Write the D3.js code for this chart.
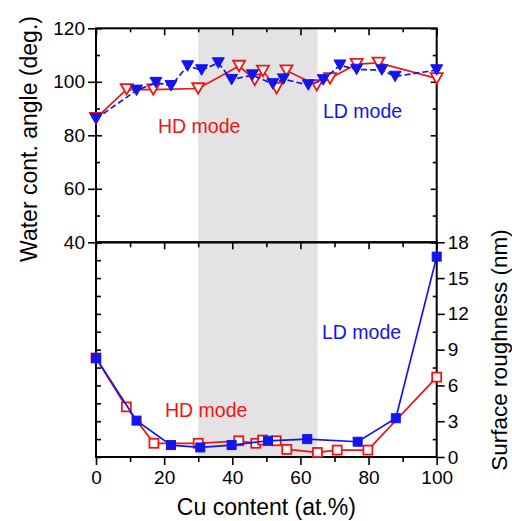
<!DOCTYPE html>
<html><head><meta charset="utf-8">
<script src="https://cdn.jsdelivr.net/npm/d3@7"></script>
<style>
html,body{margin:0;padding:0;background:#fff;}
svg{display:block;font-family:"Liberation Sans",Arial,sans-serif;}
</style></head>
<body>
<svg id="chart" width="512" height="521"></svg>
<script>
// ---- data ----
const cuTopLD   = [0, 11.9, 17.6, 22, 26.9, 31, 35.9, 39.8, 45.9, 51.9, 55, 62.3, 66.7, 71.6, 76.5, 83.9, 87.8, 100];
const angleLD   = [86.2, 96.8, 99.7, 98.5, 105.9, 104.4, 107, 100.8, 102.5, 99.2, 101, 98.8, 100.7, 106.2, 104.6, 104.4, 102, 104.4];
const cuTopHD   = [0, 9, 16.8, 30, 42, 46.6, 49, 53, 55.9, 64.8, 68.7, 76.5, 82.9, 100];
const angleHD   = [86.4, 97.2, 97.1, 97.5, 105.9, 100.7, 104.1, 97.6, 104.2, 98.7, 101.3, 106.6, 107.1, 101.3];
const cuBotLD   = [0, 11.9, 22, 30.6, 39.8, 50.5, 62, 76.8, 88, 100];
const roughLD   = [8.3, 3.05, 1.0, 0.8, 1.0, 1.36, 1.5, 1.28, 3.25, 16.8];
const cuBotHD   = [0, 8.9, 17, 30, 41.9, 46.9, 48.9, 52.9, 56, 65, 70.8, 79.8, 100];
const roughHD   = [8.3, 4.2, 1.15, 1.15, 1.36, 1.15, 1.42, 1.36, 0.64, 0.38, 0.58, 0.58, 6.7];
const shadeRange = [30, 65];
const xTicks = [0, 20, 40, 60, 80, 100];
const xMinor = [10, 30, 50, 70, 90];
const angleTicks = [40, 60, 80, 100, 120];
const angleMinor = [50, 70, 90, 110];
const roughTicks = [0, 3, 6, 9, 12, 15, 18];
const roughMinor = [1.5, 4.5, 7.5, 10.5, 13.5, 16.5];
const roughLeft = [0, 1.5, 3, 4.5, 6, 7.5, 9, 10.5, 12, 13.5, 15, 16.5, 18];

const BLUE = "#1414f0", RED = "#f01414";
const svg = d3.select("#chart");
const L = 96, R = 436.7, T = 28.3, M = 242.3, B = 457;
const x = d3.scaleLinear([0, 100], [L, R]);
const yT = d3.scaleLinear([40, 120], [M, T]);
const yB = d3.scaleLinear([0, 18], [B, M]);

// shaded band
svg.append("rect").attr("x", x(shadeRange[0])).attr("y", T)
  .attr("width", x(shadeRange[1]) - x(shadeRange[0])).attr("height", B - T)
  .attr("fill", "#e3e3e3");

function ax(gen, tx, ty, labels) {
  const g = svg.append("g").attr("transform", `translate(${tx},${ty})`).call(gen);
  g.select(".domain").remove();
  g.selectAll(".tick line").attr("stroke", "#000").attr("stroke-width", 1.6);
  if (!labels) g.selectAll(".tick text").remove();
  else g.selectAll(".tick text").attr("font-size", 19).attr("fill", "#000")
        .attr("font-family", '"Liberation Sans",Arial,sans-serif');
  return g;
}
// top panel axes
ax(d3.axisLeft(yT).tickValues(angleTicks).tickSize(8).tickPadding(3), L, 0, true);
ax(d3.axisLeft(yT).tickValues(angleTicks).tickSize(-6), L, 0, false);
ax(d3.axisLeft(yT).tickValues(angleMinor).tickSize(-4), L, 0, false);
ax(d3.axisRight(yT).tickValues(angleTicks).tickSize(-6), R, 0, false);
ax(d3.axisRight(yT).tickValues(angleMinor).tickSize(-4), R, 0, false);
ax(d3.axisTop(x).tickValues(xTicks).tickSize(-7), 0, T, false);
ax(d3.axisTop(x).tickValues(xMinor).tickSize(-4), 0, T, false);
// middle line ticks pointing down
ax(d3.axisTop(x).tickValues(xTicks).tickSize(-7), 0, M, false);
ax(d3.axisTop(x).tickValues(xMinor).tickSize(-5), 0, M, false);
// bottom panel axes
ax(d3.axisBottom(x).tickValues(xTicks).tickSize(8).tickPadding(6), 0, B, true);
ax(d3.axisBottom(x).tickValues(xMinor).tickSize(5), 0, B, false);
ax(d3.axisLeft(yB).tickValues(roughLeft).tickSize(-5), L, 0, false);
ax(d3.axisRight(yB).tickValues(roughTicks).tickSize(8).tickPadding(3), R, 0, true);
ax(d3.axisRight(yB).tickValues(roughMinor).tickSize(-4), R, 0, false);

// frames
svg.append("rect").attr("x", L).attr("y", T).attr("width", R - L).attr("height", M - T)
  .attr("fill", "none").attr("stroke", "#000").attr("stroke-width", 2);
svg.append("rect").attr("x", L).attr("y", M).attr("width", R - L).attr("height", B - M)
  .attr("fill", "none").attr("stroke", "#000").attr("stroke-width", 2);

// series
function series(xs, ys, ysc, color, dash, marker, filled) {
  const pts = xs.map((v, i) => [x(v), ysc(ys[i])]);
  svg.append("path").attr("d", d3.line()(pts)).attr("fill", "none")
    .attr("stroke", color).attr("stroke-width", 1.7).attr("stroke-dasharray", dash);
  const g = svg.append("g");
  pts.forEach(p => {
    if (marker === "tri") {
      const w = 12, h = 10.5;
      g.append("path").attr("d", `M${p[0]-w/2},${p[1]-h/2}L${p[0]+w/2},${p[1]-h/2}L${p[0]},${p[1]+h/2}Z`)
        .attr("fill", filled ? color : "#fff").attr("stroke", color)
        .attr("stroke-width", filled ? 1 : 1.8).attr("stroke-linejoin", "miter");
    } else {
      const s = 9;
      g.append("rect").attr("x", p[0]-s/2).attr("y", p[1]-s/2).attr("width", s).attr("height", s)
        .attr("fill", filled ? color : "#fff").attr("stroke", color)
        .attr("stroke-width", filled ? 1 : 1.8);
    }
  });
}
series(cuTopHD, angleHD, yT, RED, null, "tri", false);
series(cuTopLD, angleLD, yT, BLUE, "6,3", "tri", true);
series(cuBotHD, roughHD, yB, RED, null, "sq", false);
series(cuBotLD, roughLD, yB, BLUE, null, "sq", true);

// labels
function txt(s, tx, ty, size, color, rot, anchor) {
  svg.append("text").attr("transform", `translate(${tx},${ty})` + (rot ? ` rotate(${rot})` : ""))
    .attr("font-size", size).attr("fill", color).attr("text-anchor", anchor || "start").text(s);
}
txt("HD mode", 158, 133, 19.5, RED);
txt("LD mode", 323, 118, 19.5, BLUE);
txt("HD mode", 165, 417, 19.5, RED);
txt("LD mode", 322, 339, 19.5, BLUE);
txt("Cu content (at.%)", (L + R) / 2, 515, 23, "#000", 0, "middle");
txt("Water cont. angle (deg.)", 37, 139, 23, "#000", -90, "middle");
txt("Surface roughness (nm)", 507, 350, 22.5, "#000", -90, "middle");
</script>
</body></html>
